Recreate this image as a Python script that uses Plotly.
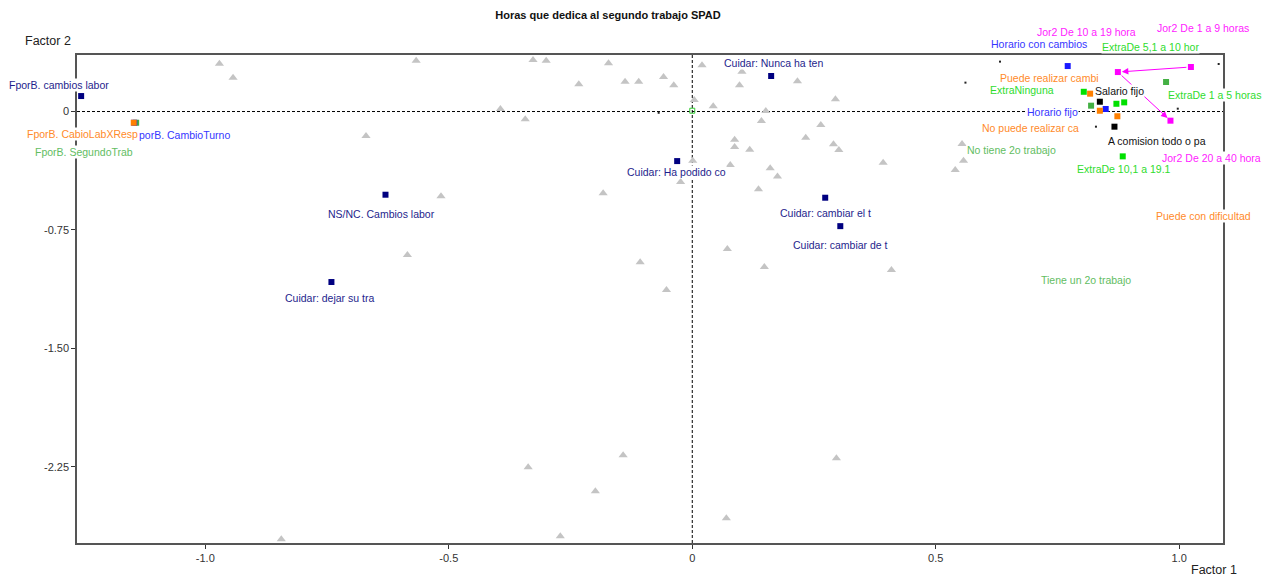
import plotly.graph_objects as go

# ---------------- data (factor coordinates) ----------------
tri_x = [-0.971, -0.943, -0.567, -0.327, -0.300, -0.233, -0.172, -0.138, -0.110, -0.059,
         -0.038, 0.020, 0.102, 0.097, 0.216, 0.294, 0.004, 0.043, 0.151, 0.142,
         0.264, 0.087, 0.087, 0.118, 0.233, 0.290, 0.301, 0.001, 0.078, 0.160,
         0.175, 0.392, -0.024, 0.136, -0.183, -0.394, -0.343, -0.670, -0.516, -0.585,
         -0.107, -0.053, 0.072, 0.148, 0.409, 0.554, 0.557, 0.540, -0.337, -0.142,
         -0.199, -0.271, 0.070, 0.296, -0.844]
tri_y = [0.303, 0.214, 0.322, 0.326, 0.322, 0.172, 0.305, 0.189, 0.189, 0.219,
         0.166, 0.293, 0.252, 0.166, 0.191, 0.077, 0.073, 0.033, 0.003, -0.060,
         -0.086, -0.179, -0.225, -0.242, -0.166, -0.208, -0.244, -0.312, -0.339, -0.360,
         -0.411, -0.324, -0.447, -0.493, -0.518, 0.016, -0.049, -0.155, -0.537, -0.909,
         -0.954, -1.131, -0.871, -0.985, -1.004, -0.206, -0.312, -0.371, -2.253, -2.177,
         -2.405, -2.690, -2.576, -2.196, -2.709]

dot_x = [0.632, 0.561, 1.081, 0.997, 0.829, -0.069]
dot_y = [0.316, 0.183, 0.301, 0.018, -0.096, -0.008]

navy_x = [-1.255, 0.162, -0.031, 0.273, 0.304, -0.630, -0.741]
navy_y = [0.098, 0.225, -0.314, -0.546, -0.726, -0.527, -1.080]

medgreen_x = [0.973, 0.819, -1.142]
medgreen_y = [0.187, 0.037, -0.071]

blue_x = [0.771, 0.849, -1.146]
blue_y = [0.288, 0.016, -0.071]

orange_x = [-1.147, 0.817, 0.837, 0.873]
orange_y = [-0.071, 0.113, 0.005, -0.030]

green_x = [0.804, 0.871, 0.887, 0.884]
green_y = [0.125, 0.049, 0.058, -0.284]

origin_x = [0.000]
origin_y = [0.005]

black_x = [0.837, 0.867]
black_y = [0.062, -0.096]

magenta_x = [1.024, 0.874, 0.982]
magenta_y = [0.282, 0.250, -0.058]

lab_text = ["FporB. cambios labor", "porB. CambioTurno", "FporB. CabioLabXResp", "FporB. SegundoTrab",
            "Cuidar: Nunca ha ten", "Cuidar: Ha podido co", "Cuidar: cambiar el t", "Cuidar: cambiar de t",
            "NS/NC. Cambios labor", "Cuidar: dejar su tra",
            "Horario con cambios", "Jor2 De 10 a 19 hora", "Jor2 De 1 a 9 horas", "ExtraDe 5,1 a 10 hor",
            "Puede realizar cambi", "ExtraNinguna", "Salario fijo", "ExtraDe 1 a 5 horas", "Horario fijo",
            "No puede realizar ca", "A comision todo o pa", "No tiene 2o trabajo", "Jor2 De 20 a 40 hora",
            "ExtraDe 10,1 a 19.1", "Puede con dificultad", "Tiene un 2o trabajo"]
lab_x = [-1.301, -1.043, -1.253, -1.250,
         0.166, -0.033, 0.273, 0.304,
         -0.639, -0.745,
         0.712, 0.809, 1.049, 0.940,
         0.734, 0.678, 0.877, 1.072, 0.740,
         0.694, 0.954, 0.655, 1.067,
         0.886, 1.049, 0.808]
lab_y = [0.168, -0.149, -0.144, -0.255,
         0.305, -0.385, -0.645, -0.846,
         -0.648, -1.180,
         0.428, 0.506, 0.527, 0.411,
         0.214, 0.134, 0.128, 0.103, -0.005,
         -0.106, -0.187, -0.244, -0.293,
         -0.366, -0.662, -1.068]
lab_group = ["navy", "blue", "orange", "medgreen",
             "navy", "navy", "navy", "navy",
             "navy", "navy",
             "blue", "magenta", "magenta", "green",
             "orange", "green", "black", "green", "blue",
             "orange", "black", "medgreen", "magenta",
             "green", "orange", "medgreen"]

x_range = [-1.2635, 1.0899]
y_range = [-2.733, 0.358]
x_ticks = [-1.0, -0.5, 0.0, 0.5, 1.0]
x_ticktext = ["-1.0", "-0.5", "0", "0.5", "1.0"]
y_ticks = [0.0, -0.75, -1.50, -2.25]
y_ticktext = ["0", "-0.75", "-1.50", "-2.25"]

# ---------------- styles ----------------
FONT = "Arial, 'Liberation Sans', sans-serif"
point_colors = {"navy": "#000080", "blue": "#1a1aff", "orange": "#ff8000", "green": "#00e000",
                "medgreen": "#44b044", "black": "#000000", "magenta": "#ff00ff"}
label_colors = {"navy": "#1e1e8c", "blue": "#3535ff", "orange": "#ff8a2a", "green": "#2edc2e",
                "medgreen": "#62bd62", "black": "#111111", "magenta": "#ff22ff"}

# the page adds an 8px body margin; figure is sized/placed to compensate
OFF = 8
W, H = 1273 - OFF, 576 - OFF
ml, mr, mt, mb = 77 - OFF, 50, 55 - OFF, 33
pw, ph = W - ml - mr, H - mt - mb


def xp(px):  # page pixel -> paper x
    return (px - OFF - ml) / pw


def yp(py):  # page pixel -> paper y
    return 1 - (py - OFF - mt) / ph


def dx(v):  # data -> paper x
    return (v - x_range[0]) / (x_range[1] - x_range[0])


def dy(v):  # data -> paper y
    return (v - y_range[0]) / (y_range[1] - y_range[0])


fig = go.Figure()
fig.add_trace(go.Scatter(x=tri_x, y=tri_y, mode="markers", cliponaxis=False,
                         marker=dict(symbol="triangle-up", size=8, color="#c4c4c4", line=dict(width=0))))
fig.add_trace(go.Scatter(x=dot_x, y=dot_y, mode="markers",
                         marker=dict(symbol="square", size=2, color="#222222", line=dict(width=0))))
fig.add_trace(go.Scatter(x=origin_x, y=origin_y, mode="markers",
                         marker=dict(symbol="square-open", size=5, color="#33cc33",
                                     line=dict(width=1, color="#33cc33"))))

for key, xs, ys in [("navy", navy_x, navy_y), ("medgreen", medgreen_x, medgreen_y),
                    ("blue", blue_x, blue_y), ("orange", orange_x, orange_y),
                    ("green", green_x, green_y), ("black", black_x, black_y),
                    ("magenta", magenta_x, magenta_y)]:
    fig.add_trace(go.Scatter(x=xs, y=ys, mode="markers", cliponaxis=False,
                             marker=dict(symbol="square", size=6, color=point_colors[key],
                                         line=dict(width=0))))

annotations = []
# trajectory arrows between the Jor2 categories
for i in range(len(magenta_x) - 1):
    annotations.append(dict(x=magenta_x[i + 1], y=magenta_y[i + 1], ax=magenta_x[i], ay=magenta_y[i],
                            xref="x", yref="y", axref="x", ayref="y", text="", showarrow=True,
                            arrowhead=2, arrowsize=1.3, arrowwidth=1, arrowcolor="#ff00ff",
                            standoff=4, startstandoff=3))
for t, lx, ly, g in zip(lab_text, lab_x, lab_y, lab_group):
    annotations.append(dict(x=dx(lx), y=dy(ly), xref="paper", yref="paper", text=t, showarrow=False,
                            xanchor="center", yanchor="middle", bgcolor="white", borderpad=0,
                            font=dict(family=FONT, size=10.5, color=label_colors[g])))
annotations.append(dict(x=xp(48), y=yp(41), xref="paper", yref="paper", text="Factor 2",
                        showarrow=False, xanchor="center", yanchor="middle",
                        font=dict(family=FONT, size=12.5, color="#222222")))
annotations.append(dict(x=xp(1214), y=yp(570), xref="paper", yref="paper", text="Factor 1",
                        showarrow=False, xanchor="center", yanchor="middle",
                        font=dict(family=FONT, size=12.5, color="#222222")))

shapes = [
    dict(type="line", xref="x", yref="paper", x0=0, x1=0, y0=0, y1=1,
         line=dict(color="black", width=1, dash="3px,2px"), layer="below"),
    dict(type="line", xref="paper", yref="y", x0=0, x1=1, y0=0, y1=0,
         line=dict(color="black", width=1, dash="3px,2px"), layer="below"),
]

fig.update_layout(
    width=W, height=H,
    margin=dict(l=ml, r=mr, t=mt, b=mb),
    paper_bgcolor="white", plot_bgcolor="white",
    showlegend=False,
    title=dict(text="<b>Horas que dedica al segundo trabajo SPAD</b>", x=(608 - OFF) / W,
               y=1 - (15 - OFF) / H, xanchor="center", yanchor="middle",
               font=dict(family=FONT, size=11, color="#111111")),
    font=dict(family=FONT, size=11, color="#333333"),
    annotations=annotations,
    shapes=shapes,
)
fig.update_xaxes(range=x_range, tickvals=x_ticks, ticktext=x_ticktext,
                 showgrid=False, zeroline=False, showline=True, linecolor="#555555", linewidth=1.5,
                 mirror=True, ticks="outside", ticklen=4, tickcolor="#333333",
                 tickfont=dict(family=FONT, size=11, color="#333333"))
fig.update_yaxes(range=y_range, tickvals=y_ticks, ticktext=y_ticktext,
                 showgrid=False, zeroline=False, showline=True, linecolor="#555555", linewidth=1.5,
                 mirror=True, ticks="outside", ticklen=4, tickcolor="#333333",
                 tickfont=dict(family=FONT, size=11, color="#333333"))

fig.write_html("out.html")
